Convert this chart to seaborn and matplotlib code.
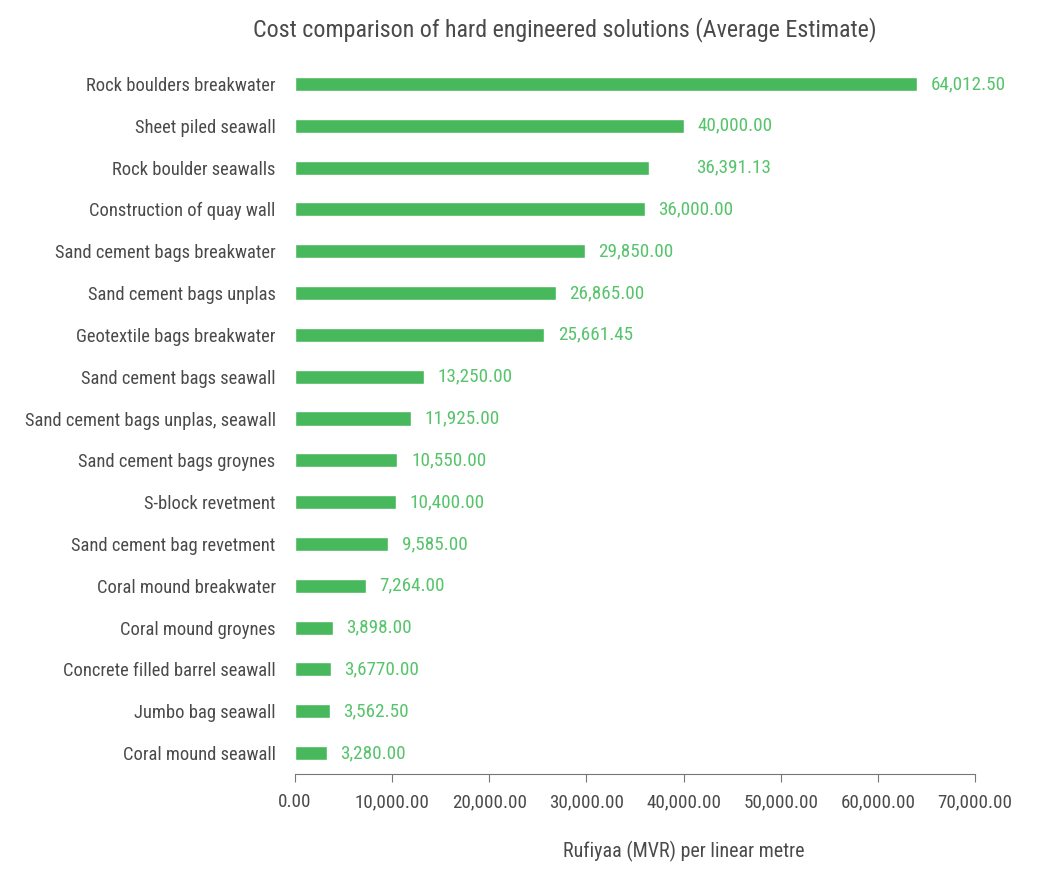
import matplotlib
matplotlib.use("Agg")
import matplotlib.pyplot as plt
import pandas as pd
import seaborn as sns
from matplotlib.ticker import FuncFormatter

solutions = [
    "Rock boulders breakwater",
    "Sheet piled seawall",
    "Rock boulder seawalls",
    "Construction of quay wall",
    "Sand cement bags breakwater",
    "Sand cement bags unplas",
    "Geotextile bags breakwater",
    "Sand cement bags seawall",
    "Sand cement bags unplas, seawall",
    "Sand cement bags groynes",
    "S-block revetment",
    "Sand cement bag revetment",
    "Coral mound breakwater",
    "Coral mound groynes",
    "Concrete filled barrel seawall",
    "Jumbo bag seawall",
    "Coral mound seawall",
]
cost_mvr = [64012.50, 40000.00, 36391.13, 36000.00, 29850.00, 26865.00,
            25661.45, 13250.00, 11925.00, 10550.00, 10400.00, 9585.00,
            7264.00, 3898.00, 3677.00, 3562.50, 3280.00]
# labels as printed in the source (one has a typo)
value_labels = ["64,012.50", "40,000.00", "36,391.13", "36,000.00", "29,850.00",
                "26,865.00", "25,661.45", "13,250.00", "11,925.00", "10,550.00",
                "10,400.00", "9,585.00", "7,264.00", "3,898.00", "3,6770.00",
                "3,562.50", "3,280.00"]

BAR = "#47b85b"
TXT = "#55c46a"
GREY = "#4a4a4a"

df = pd.DataFrame({"solution": solutions, "cost": cost_mvr, "label": value_labels})

sns.set_style("white")
plt.rcParams["font.family"] = ["Roboto Condensed", "Liberation Sans Narrow", "DejaVu Sans"]

fig = plt.figure(figsize=(10.6, 8.8), dpi=100)
ax = fig.add_axes([295 / 1060, 1 - 774 / 880, 680 / 1060, 711 / 880])

sns.barplot(data=df, x="cost", y="solution", color=BAR, width=0.335,
            saturation=1, ax=ax)

for i, row in df.iterrows():
    # the source chart pushes one label further out
    pad = 4900 if row["solution"] == "Rock boulder seawalls" else 1400
    ax.text(row["cost"] + pad, i, row["label"], va="center", ha="left",
            color=TXT, fontsize=13.8)

ax.set_xlim(0, 70000)
ax.set_ylim(len(df) - 0.5, -0.5)
ax.set_xticks(range(0, 70001, 10000))
ax.xaxis.set_major_formatter(FuncFormatter(lambda v, _: f"{v:,.2f}"))
ax.tick_params(axis="x", bottom=True, direction="out", length=6, width=0.8,
               color="#777777", pad=8, labelsize=13.7, labelcolor=GREY)
ax.tick_params(axis="y", left=False, length=0, pad=14, labelsize=13.35, labelcolor=GREY)
for s in ["top", "right", "left"]:
    ax.spines[s].set_visible(False)
ax.spines["bottom"].set_color("#777777")
ax.spines["bottom"].set_linewidth(0.8)
ax.set_ylabel("")
ax.set_xlabel("")

fig.text(684 / 1060, 1 - 851 / 880, "Rufiyaa (MVR) per linear metre",
         ha="center", va="center", fontsize=14.4, color=GREY)
fig.text(565 / 1060, 1 - 30 / 880,
         "Cost comparison of hard engineered solutions (Average Estimate)",
         ha="center", va="center", fontsize=17.3, color=GREY)

fig.savefig("out.png", dpi=100)
